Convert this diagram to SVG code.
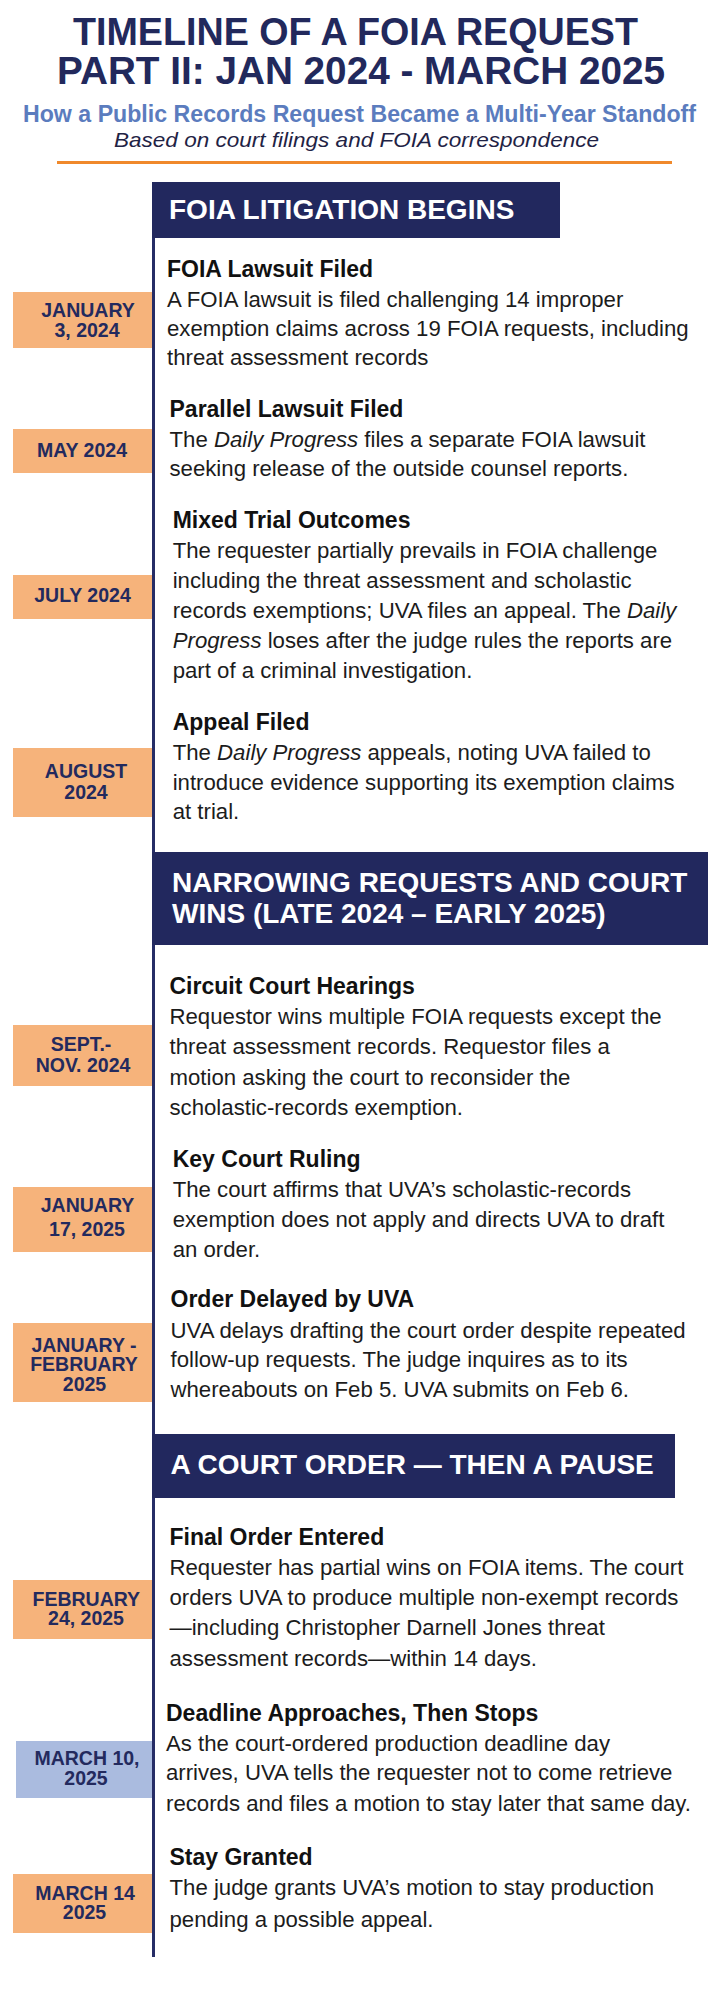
<svg xmlns="http://www.w3.org/2000/svg" width="708" height="1999" viewBox="0 0 708 1999">
<style>
text{font-family:"Liberation Sans",Arial,sans-serif;}
.title{font-size:38px;font-weight:bold;fill:#22295c;}
.sub{font-size:23px;font-weight:bold;fill:#5b7cbe;}
.src{font-size:21px;font-style:italic;fill:#1f2345;}
.hbox{fill:#22285e;}
.htxt{font-size:28px;font-weight:bold;fill:#ffffff;}
.dbox{fill:#f6b37b;}
.dbox2{fill:#aabbdf;}
.dtxt{font-size:19.5px;font-weight:bold;fill:#232a5e;text-anchor:middle;}
.etitle{font-size:23px;font-weight:bold;fill:#111111;}
.body{font-size:22.2px;fill:#1c1c1c;}
.it{font-style:italic;}
.tl{stroke:#262d66;stroke-width:3;fill:none;}
</style>
<rect x="0" y="0" width="708" height="1999" fill="#ffffff"/>

<g id="header-title">
<text class="title" x="73" y="45" textLength="565" lengthAdjust="spacingAndGlyphs">TIMELINE OF A FOIA REQUEST</text>
<text class="title" x="57" y="83.5" textLength="608" lengthAdjust="spacingAndGlyphs">PART II: JAN 2024 - MARCH 2025</text>
<text class="sub" x="23" y="122" textLength="673" lengthAdjust="spacingAndGlyphs">How a Public Records Request Became a Multi-Year Standoff</text>
<text class="src" x="114" y="146.5" textLength="485" lengthAdjust="spacingAndGlyphs">Based on court filings and FOIA correspondence</text>
<line x1="57" y1="162.5" x2="672" y2="162.5" stroke="#f0892b" stroke-width="3"/>
</g>

<g id="connectors">
<line class="tl" x1="153.5" y1="182" x2="153.5" y2="1957"/>
</g>

<g id="section-1">
<rect class="hbox" x="152" y="182" width="408" height="56"/>
<text class="htxt" x="169" y="219.3">FOIA LITIGATION BEGINS</text>
</g>

<g id="event-jan-2024">
<rect class="dbox" x="13" y="292" width="139" height="56"/>
<text class="dtxt" x="88" y="316.7">JANUARY</text>
<text class="dtxt" x="87" y="336.7">3, 2024</text>
<text class="etitle" x="167" y="276.5">FOIA Lawsuit Filed</text>
<text class="body" x="167" y="307">A FOIA lawsuit is filed challenging 14 improper</text>
<text class="body" x="167" y="336">exemption claims across 19 FOIA requests, including</text>
<text class="body" x="167" y="365">threat assessment records</text>
</g>

<g id="event-may-2024">
<rect class="dbox" x="13" y="429" width="139" height="44"/>
<text class="dtxt" x="82" y="457.3">MAY 2024</text>
<text class="etitle" x="169.5" y="416.7">Parallel Lawsuit Filed</text>
<text class="body" x="169.5" y="446.7">The <tspan class="it">Daily Progress</tspan> files a separate FOIA lawsuit</text>
<text class="body" x="169.5" y="476">seeking release of the outside counsel reports.</text>
</g>

<g id="event-jul-2024">
<rect class="dbox" x="13" y="575" width="139" height="44"/>
<text class="dtxt" x="82.5" y="601.7">JULY 2024</text>
<text class="etitle" x="172.7" y="528.3">Mixed Trial Outcomes</text>
<text class="body" x="172.7" y="558.3">The requester partially prevails in FOIA challenge</text>
<text class="body" x="172.7" y="588.3">including the threat assessment and scholastic</text>
<text class="body" x="172.7" y="618.3">records exemptions; UVA files an appeal. The <tspan class="it">Daily</tspan></text>
<text class="body" x="172.7" y="648.3"><tspan class="it">Progress</tspan> loses after the judge rules the reports are</text>
<text class="body" x="172.7" y="678.3">part of a criminal investigation.</text>
</g>

<g id="event-aug-2024">
<rect class="dbox" x="13" y="748" width="139" height="69"/>
<text class="dtxt" x="86" y="777.7">AUGUST</text>
<text class="dtxt" x="86" y="799">2024</text>
<text class="etitle" x="172.7" y="730">Appeal Filed</text>
<text class="body" x="172.7" y="760">The <tspan class="it">Daily Progress</tspan> appeals, noting UVA failed to</text>
<text class="body" x="172.7" y="790">introduce evidence supporting its exemption claims</text>
<text class="body" x="172.7" y="819">at trial.</text>
</g>

<g id="section-2">
<rect class="hbox" x="152" y="852" width="556" height="93"/>
<text class="htxt" x="172" y="891.7">NARROWING REQUESTS AND COURT</text>
<text class="htxt" x="172" y="922.7">WINS (LATE 2024 – EARLY 2025)</text>
</g>

<g id="event-sept-nov-2024">
<rect class="dbox" x="13" y="1025" width="139" height="61"/>
<text class="dtxt" x="81" y="1051">SEPT.-</text>
<text class="dtxt" x="83" y="1072.3">NOV. 2024</text>
<text class="etitle" x="169.5" y="994">Circuit Court Hearings</text>
<text class="body" x="169.5" y="1024.3">Requestor wins multiple FOIA requests except the</text>
<text class="body" x="169.5" y="1054.3">threat assessment records. Requestor files a</text>
<text class="body" x="169.5" y="1085">motion asking the court to reconsider the</text>
<text class="body" x="169.5" y="1115">scholastic-records exemption.</text>
</g>

<g id="event-jan-2025">
<rect class="dbox" x="13" y="1187" width="139" height="65"/>
<text class="dtxt" x="87.5" y="1211.7">JANUARY</text>
<text class="dtxt" x="87" y="1236">17, 2025</text>
<text class="etitle" x="172.7" y="1166.7">Key Court Ruling</text>
<text class="body" x="172.7" y="1196.7">The court affirms that UVA’s scholastic-records</text>
<text class="body" x="172.7" y="1226.7">exemption does not apply and directs UVA to draft</text>
<text class="body" x="172.7" y="1256.7">an order.</text>
</g>

<g id="event-jan-feb-2025">
<rect class="dbox" x="13" y="1323" width="139" height="79"/>
<text class="dtxt" x="84" y="1351.7">JANUARY -</text>
<text class="dtxt" x="84" y="1370.7">FEBRUARY</text>
<text class="dtxt" x="84.5" y="1391">2025</text>
<text class="etitle" x="170.5" y="1307.3">Order Delayed by UVA</text>
<text class="body" x="170.5" y="1338.3">UVA delays drafting the court order despite repeated</text>
<text class="body" x="170.5" y="1367.3">follow-up requests. The judge inquires as to its</text>
<text class="body" x="170.5" y="1397.3">whereabouts on Feb 5. UVA submits on Feb 6.</text>
</g>

<g id="section-3">
<rect class="hbox" x="152" y="1434" width="523" height="64"/>
<text class="htxt" x="170.5" y="1474.3">A COURT ORDER — THEN A PAUSE</text>
</g>

<g id="event-feb-24-2025">
<rect class="dbox" x="13" y="1580" width="139" height="59"/>
<text class="dtxt" x="86.3" y="1605.7">FEBRUARY</text>
<text class="dtxt" x="86" y="1625">24, 2025</text>
<text class="etitle" x="169.5" y="1545">Final Order Entered</text>
<text class="body" x="169.5" y="1575">Requester has partial wins on FOIA items. The court</text>
<text class="body" x="169.5" y="1605">orders UVA to produce multiple non-exempt records</text>
<text class="body" x="169.5" y="1635">—including Christopher Darnell Jones threat</text>
<text class="body" x="169.5" y="1666">assessment records—within 14 days.</text>
</g>

<g id="event-mar-10-2025">
<rect class="dbox2" x="16" y="1741" width="136" height="57"/>
<text class="dtxt" x="87" y="1765">MARCH 10,</text>
<text class="dtxt" x="86" y="1785">2025</text>
<text class="etitle" x="166" y="1720.7">Deadline Approaches, Then Stops</text>
<text class="body" x="166" y="1750.7">As the court-ordered production deadline day</text>
<text class="body" x="166" y="1780">arrives, UVA tells the requester not to come retrieve</text>
<text class="body" x="166" y="1811">records and files a motion to stay later that same day.</text>
</g>

<g id="event-mar-14-2025">
<rect class="dbox" x="13" y="1874" width="139" height="59"/>
<text class="dtxt" x="85" y="1900">MARCH 14</text>
<text class="dtxt" x="84.5" y="1919">2025</text>
<text class="etitle" x="169.5" y="1865">Stay Granted</text>
<text class="body" x="169.5" y="1895">The judge grants UVA’s motion to stay production</text>
<text class="body" x="169.5" y="1927">pending a possible appeal.</text>
</g>
</svg>
